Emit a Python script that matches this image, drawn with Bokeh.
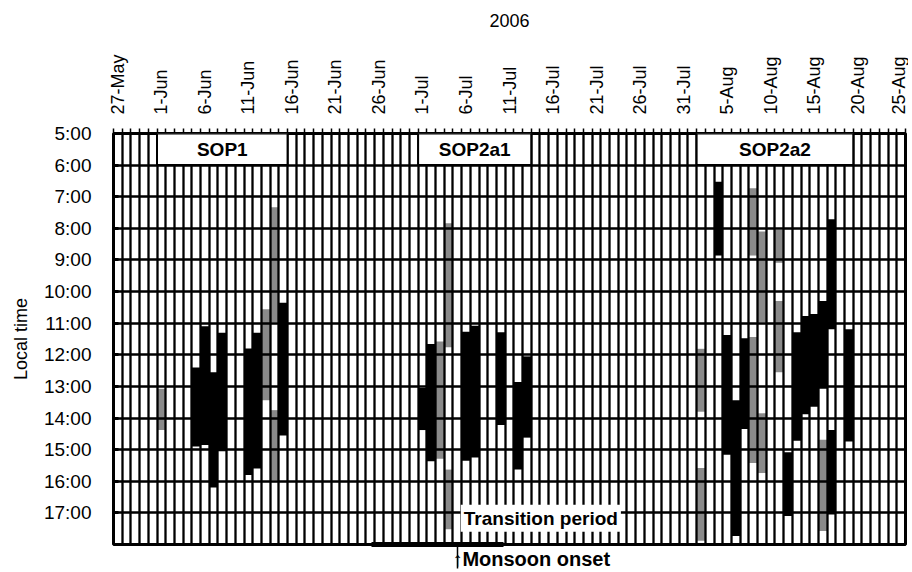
import math
from bokeh.plotting import figure
from bokeh.models import (Range1d, FixedTicker, BoxAnnotation, Label, LinearAxis)
from bokeh.embed import file_html
from bokeh.resources import INLINE

FONT = "Liberation Sans"

# ---- data -------------------------------------------------------------
# day index: 0 = 27-May-2006
date_labels = ["27-May", "1-Jun", "6-Jun", "11-Jun", "16-Jun", "21-Jun", "26-Jun",
               "1-Jul", "6-Jul", "11-Jul", "16-Jul", "21-Jul", "26-Jul", "31-Jul",
               "5-Aug", "10-Aug", "15-Aug", "20-Aug", "25-Aug"]
label_days = [0, 5, 10, 15, 20, 25, 30, 35, 40, 45, 50, 55, 60, 65, 70, 75, 80, 85, 90]

black_days = [9, 10, 11, 12, 15, 16, 19, 35, 36, 40, 41, 44, 46, 47,
              69, 70, 71, 72, 77, 78, 79, 80, 81, 82, 82, 84]
black_start = [12.4, 11.1, 12.55, 11.3, 11.8, 11.3, 10.35, 13.05, 11.66, 11.27, 11.08, 11.29, 12.86, 12.05,
               6.53, 11.37, 13.44, 11.48, 15.08, 11.29, 10.77, 10.71, 10.3, 7.71, 14.38, 11.19]
black_end = [14.9, 14.85, 16.2, 15.05, 15.8, 15.6, 14.55, 14.38, 15.37, 15.35, 15.25, 14.22, 15.63, 14.62,
             8.86, 15.16, 17.73, 14.35, 17.1, 14.72, 13.88, 13.64, 13.07, 11.19, 17.05, 14.74]

gray_days = [5, 17, 18, 18, 37, 38, 38, 67, 67, 73, 73, 74, 74, 76, 76, 81]
gray_start = [13.07, 10.56, 7.33, 13.75, 11.58, 7.84, 15.63, 11.81, 15.58, 6.73, 11.44, 8.1, 13.85, 8.05, 10.3, 14.69]
gray_end = [14.38, 13.44, 10.97, 15.96, 15.29, 11.76, 17.52, 13.8, 17.88, 8.86, 15.42, 10.97, 15.74, 9.09, 12.55, 17.57]

hour_ticks = [5, 6, 7, 8, 9, 10, 11, 12, 13, 14, 15, 16, 17]
hour_labels = ["5:00", "6:00", "7:00", "8:00", "9:00", "10:00", "11:00", "12:00",
               "13:00", "14:00", "15:00", "16:00", "17:00"]

sop_names = ["SOP1", "SOP2a1", "SOP2a2"]
sop_start = [5, 35, 67]
sop_end = [20, 48, 85]

transition_start = 29.6
transition_end = 44.8
monsoon_onset = 39.5
monsoon_text_center = 48.0

n_days = 91
# ---- figure -----------------------------------------------------------
p = figure(width=908, height=572, x_range=Range1d(0, n_days), y_range=Range1d(18, 5),
           output_backend="svg", toolbar_location=None, x_axis_location="above",
           min_border_left=113, min_border_right=3, min_border_top=133, min_border_bottom=25)
p.background_fill_color = "white"
p.border_fill_color = "white"
p.outline_line_color = "black"
p.outline_line_width = 3

# top axis (dates)
xa = p.xaxis[0]
xa.ticker = FixedTicker(ticks=[d + 0.5 for d in label_days], minor_ticks=list(range(0, n_days + 1)))
xa.major_label_overrides = {d + 0.5: lab for d, lab in zip(label_days, date_labels)}
xa.major_label_orientation = math.pi / 2
xa.major_tick_line_color = None
xa.minor_tick_out = 5
xa.minor_tick_in = 0
xa.minor_tick_line_color = "black"
xa.minor_tick_line_width = 1.5
xa.axis_line_color = None
xa.major_label_standoff = 13
xa.major_label_text_font = FONT
xa.major_label_text_font_size = "18px"
xa.major_label_text_color = "black"
xa.axis_label = "2006"
xa.axis_label_text_font = FONT
xa.axis_label_text_font_style = "normal"
xa.axis_label_text_font_size = "18px"
xa.axis_label_text_color = "black"
xa.axis_label_standoff = 24

# left axis (time)
ya = p.yaxis[0]
ya.ticker = FixedTicker(ticks=hour_ticks)
ya.major_label_overrides = {h: lab for h, lab in zip(hour_ticks, hour_labels)}
ya.major_tick_in = 5
ya.major_tick_out = 0
ya.major_tick_line_width = 3
ya.major_tick_line_color = "black"
ya.minor_tick_line_color = None
ya.axis_line_color = None
ya.major_label_standoff = 22
ya.major_label_text_font = FONT
ya.major_label_text_font_size = "19px"
ya.major_label_text_color = "black"
ya.axis_label = "Local time"
ya.axis_label_text_font = FONT
ya.axis_label_text_font_style = "normal"
ya.axis_label_text_font_size = "18px"
ya.axis_label_text_color = "black"
ya.axis_label_standoff = 10

# grid on top of bars
p.xgrid.ticker = FixedTicker(ticks=list(range(0, n_days + 1)))
p.ygrid.ticker = FixedTicker(ticks=list(range(5, 19)))
for g in (p.xgrid, p.ygrid):
    g.grid_line_color = "black"
    g.grid_line_width = 2.3
    g.grid_line_alpha = 1
    g.level = "guide"

# bars
p.vbar(x=[d + 0.5 for d in gray_days], width=1, bottom=gray_start, top=gray_end,
       fill_color="#8a8a8a", line_color=None)
p.vbar(x=[d + 0.5 for d in black_days], width=1, bottom=black_start, top=black_end,
       fill_color="black", line_color=None)

# SOP boxes
for name, s, e in zip(sop_names, sop_start, sop_end):
    p.add_layout(BoxAnnotation(left=s, right=e, top=5, bottom=6, fill_color="white",
                               fill_alpha=1, line_color="black", line_width=2, line_alpha=1))
    p.add_layout(Label(x=(s + e) / 2, y=5.5, text=name, text_align="center",
                       text_baseline="middle", text_font=FONT, text_font_style="bold",
                       text_font_size="19px", text_color="black"))

# transition period label
p.add_layout(Label(x=39.9, y=17.17, text="Transition period", text_align="left",
                   text_baseline="middle", text_font=FONT, text_font_style="bold",
                   text_font_size="19px", text_color="black",
                   background_fill_color="white", background_fill_alpha=1, padding=3))

# transition line (axis line between bounds), monsoon onset arrow (minor tick) and its text
onset_axis = LinearAxis(ticker=FixedTicker(ticks=[monsoon_text_center], minor_ticks=[monsoon_onset]),
                        bounds=(transition_start, transition_end),
                        axis_line_width=5, axis_line_color="black",
                        major_tick_line_color=None, major_tick_in=0, major_tick_out=0,
                        minor_tick_in=0, minor_tick_out=24, minor_tick_line_width=1.5,
                        minor_tick_line_color="black",
                        major_label_overrides={monsoon_text_center: "\u2191Monsoon onset"},
                        major_label_standoff=-21,
                        major_label_text_font=FONT, major_label_text_font_style="bold",
                        major_label_text_font_size="20px", major_label_text_color="black")
p.add_layout(onset_axis, "below")

open("out.html", "w").write(file_html(p, INLINE))
